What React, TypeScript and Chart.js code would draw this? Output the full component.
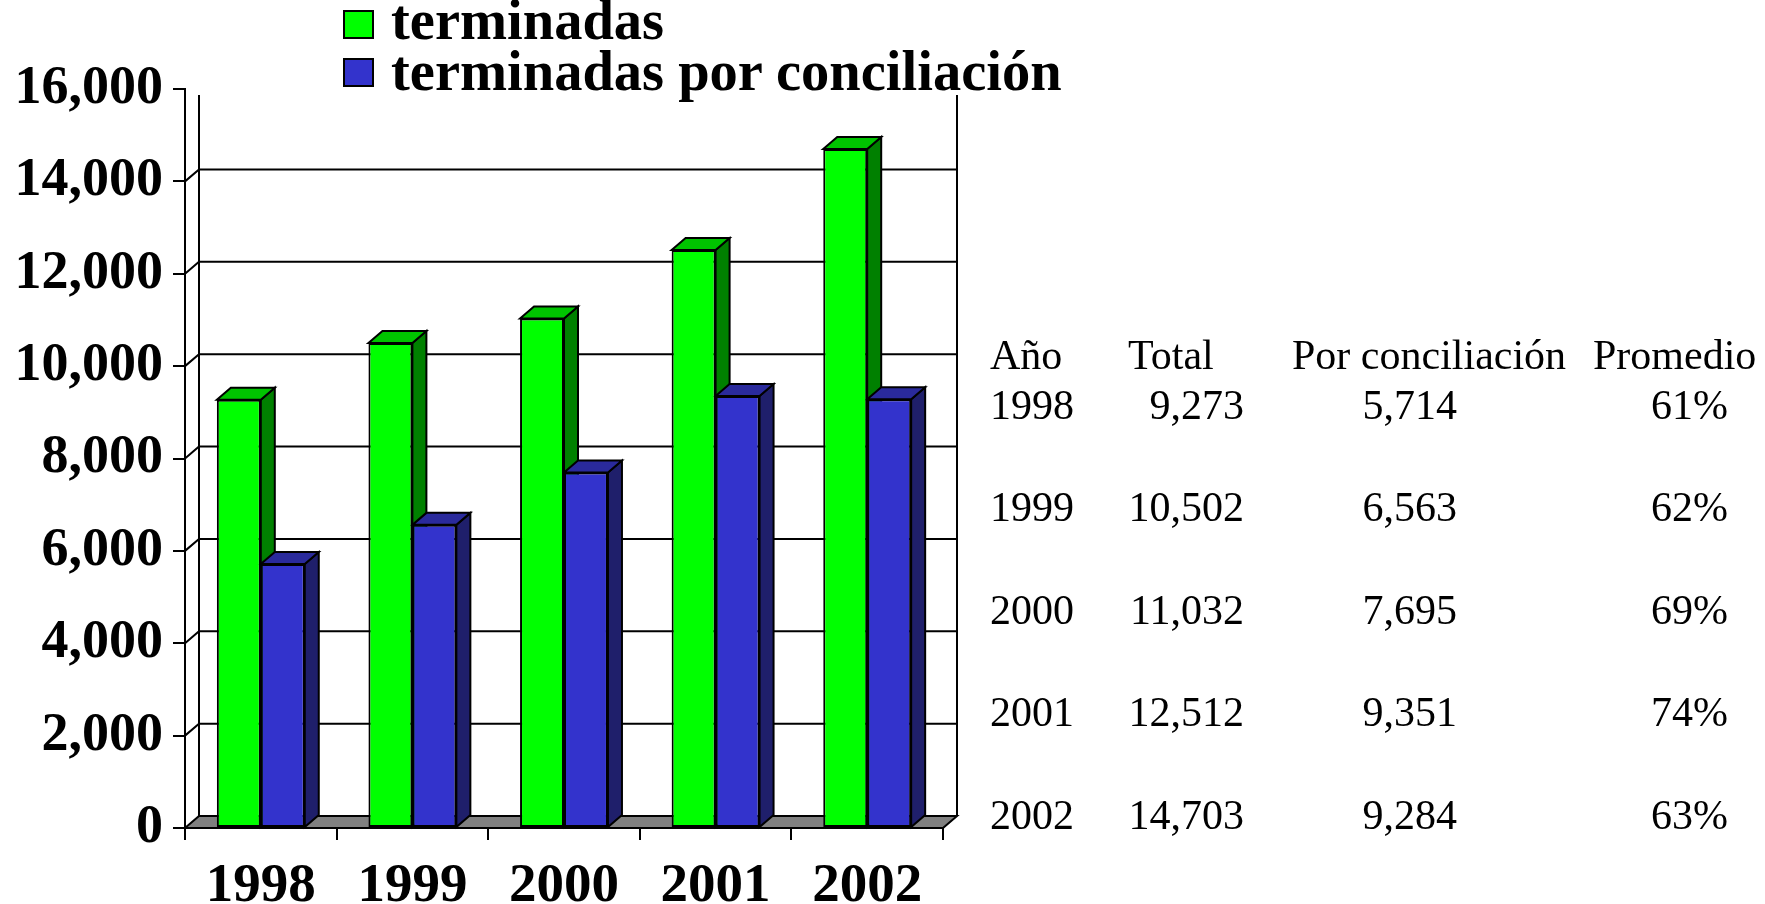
import React, { useEffect, useRef } from 'react';
import { Chart, registerables } from 'chart.js';

Chart.register(...registerables);

// ---- data ----
const years = ['1998', '1999', '2000', '2001', '2002'];
const terminadas = [9273, 10502, 11032, 12512, 14703];
const porConciliacion = [5714, 6563, 7695, 9351, 9284];
const promedio = [61, 62, 69, 74, 63];
const seriesLabels = ['terminadas', 'terminadas por conciliación'];
const tableHeaders = ['Año', 'Total', 'Por conciliación', 'Promedio'];
const yMax = 16000;
const yStep = 2000;

// ---- styles ----
const W = 1765;
const H = 904;
const FRONT = ['#00ff00', '#3333cc'];
const SIDE = ['#008000', '#1f1f6b'];
const TOP = ['#00c400', '#2a2a9c'];
const DX = 14;
const DY = -12;
const SERIF = "'Liberation Serif', 'Times New Roman', serif";

const fmt = (v: number) => v.toLocaleString('en-US');

const threeD = {
  id: 'threeD',
  beforeDatasetsDraw(chart: any) {
    const ctx = chart.ctx;
    const { left, right, top, bottom } = chart.chartArea;
    const y = chart.scales.y;
    ctx.save();
    ctx.strokeStyle = '#000';
    ctx.lineWidth = 2;
    ctx.lineJoin = 'miter';
    // back wall verticals
    ctx.beginPath();
    ctx.moveTo(left + DX, top + 6);
    ctx.lineTo(left + DX, bottom + DY);
    ctx.moveTo(right + DX, top + 6);
    ctx.lineTo(right + DX, bottom + DY);
    ctx.stroke();
    // back gridlines with connectors
    y.ticks.forEach((t: any) => {
      if (t.value <= 0 || t.value >= yMax) return;
      const py = y.getPixelForValue(t.value);
      ctx.beginPath();
      ctx.moveTo(left, py);
      ctx.lineTo(left + DX, py + DY);
      ctx.lineTo(right + DX, py + DY);
      ctx.stroke();
    });
    // floor
    ctx.beginPath();
    ctx.moveTo(left, bottom);
    ctx.lineTo(right, bottom);
    ctx.lineTo(right + DX, bottom + DY);
    ctx.lineTo(left + DX, bottom + DY);
    ctx.closePath();
    ctx.fillStyle = '#808080';
    ctx.fill();
    ctx.stroke();
    // bar sides & tops
    chart.data.datasets.forEach((_: any, di: number) => {
      const meta = chart.getDatasetMeta(di);
      meta.data.forEach((bar: any) => {
        const L = bar.x - bar.width / 2;
        const R = bar.x + bar.width / 2;
        const T = bar.y;
        const B = bar.base;
        ctx.beginPath();
        ctx.moveTo(R, T);
        ctx.lineTo(R + DX, T + DY);
        ctx.lineTo(R + DX, B + DY);
        ctx.lineTo(R, B);
        ctx.closePath();
        ctx.fillStyle = SIDE[di];
        ctx.fill();
        ctx.stroke();
        ctx.beginPath();
        ctx.moveTo(L, T);
        ctx.lineTo(L + DX, T + DY);
        ctx.lineTo(R + DX, T + DY);
        ctx.lineTo(R, T);
        ctx.closePath();
        ctx.fillStyle = TOP[di];
        ctx.fill();
        ctx.stroke();
      });
    });
    ctx.restore();
  },
};

export default function App() {
  const ref = useRef<HTMLCanvasElement | null>(null);

  useEffect(() => {
    document.body.style.margin = '0';
    const canvas = ref.current;
    if (!canvas) return;
    const chart = new Chart(canvas, {
      type: 'bar',
      data: {
        labels: years,
        datasets: [
          {
            label: seriesLabels[0],
            data: terminadas,
            backgroundColor: FRONT[0],
            borderColor: '#000',
            borderWidth: 2,
            borderSkipped: false,
          },
          {
            label: seriesLabels[1],
            data: porConciliacion,
            backgroundColor: FRONT[1],
            borderColor: '#000',
            borderWidth: 2,
            borderSkipped: false,
          },
        ],
      },
      options: {
        responsive: false,
        animation: false,
        devicePixelRatio: 1,
        layout: { padding: { left: 0, top: 89, right: W - 943, bottom: 0 } },
        plugins: {
          legend: { display: false },
          tooltip: { enabled: false },
        },
        datasets: { bar: { categoryPercentage: 0.58, barPercentage: 1 } },
        scales: {
          x: {
            afterFit: (s: any) => {
              s.height = 76;
            },
            grid: {
              offset: true,
              drawOnChartArea: false,
              drawTicks: true,
              tickLength: 12,
              color: '#000',
              lineWidth: 2,
            },
            border: { display: true, color: '#000', width: 2 },
            ticks: {
              color: '#000',
              padding: 14,
              font: { family: SERIF, size: 55, weight: 'bold' },
            },
          },
          y: {
            min: 0,
            max: yMax,
            afterFit: (s: any) => {
              s.width = 185;
            },
            grid: {
              drawOnChartArea: false,
              drawTicks: true,
              tickLength: 12,
              color: '#000',
              lineWidth: 2,
            },
            border: { display: true, color: '#000', width: 2 },
            ticks: {
              stepSize: yStep,
              color: '#000',
              padding: 10,
              font: { family: SERIF, size: 54, weight: 'bold' },
              callback: (v: any) => fmt(Number(v)),
            },
          },
        },
      },
      plugins: [threeD],
    });
    return () => chart.destroy();
  }, []);

  const tf = 42;
  const tOff = 0.8375 * tf;
  const lf = 56.5;
  const lOff = 0.8375 * lf;
  const txt = (baseline: number, f: number, off: number): React.CSSProperties => ({
    position: 'absolute',
    top: baseline - off,
    fontSize: f,
    lineHeight: 1,
    whiteSpace: 'nowrap',
    fontFamily: SERIF,
    color: '#000',
  });
  const headerBase = 369;
  const rowBase = (i: number) => 419 + i * 102.5;

  return (
    <div style={{ position: 'fixed', left: 0, top: 0, width: W, height: H, background: '#fff' }}>
      <canvas ref={ref} width={W} height={H} style={{ position: 'absolute', left: 0, top: 0, display: 'block' }} />
      {seriesLabels.map((s, i) => (
        <React.Fragment key={s}>
          <div
            style={{
              position: 'absolute',
              left: 343,
              top: 10 + i * 48,
              width: 27,
              height: 25,
              background: FRONT[i],
              border: '2px solid #000',
            }}
          />
          <span style={{ ...txt(39 + i * 51, lf, lOff), left: 391, fontWeight: 'bold' }}>{s}</span>
        </React.Fragment>
      ))}
      <span style={{ ...txt(headerBase, tf, tOff), left: 990 }}>{tableHeaders[0]}</span>
      <span style={{ ...txt(headerBase, tf, tOff), left: 1128 }}>{tableHeaders[1]}</span>
      <span style={{ ...txt(headerBase, tf, tOff), left: 1292 }}>{tableHeaders[2]}</span>
      <span style={{ ...txt(headerBase, tf, tOff), left: 1593 }}>{tableHeaders[3]}</span>
      {years.map((yr, i) => (
        <React.Fragment key={yr}>
          <span style={{ ...txt(rowBase(i), tf, tOff), left: 990 }}>{yr}</span>
          <span style={{ ...txt(rowBase(i), tf, tOff), right: W - 1244 }}>{fmt(terminadas[i])}</span>
          <span style={{ ...txt(rowBase(i), tf, tOff), right: W - 1457 }}>{fmt(porConciliacion[i])}</span>
          <span style={{ ...txt(rowBase(i), tf, tOff), right: W - 1728 }}>{promedio[i] + '%'}</span>
        </React.Fragment>
      ))}
    </div>
  );
}
